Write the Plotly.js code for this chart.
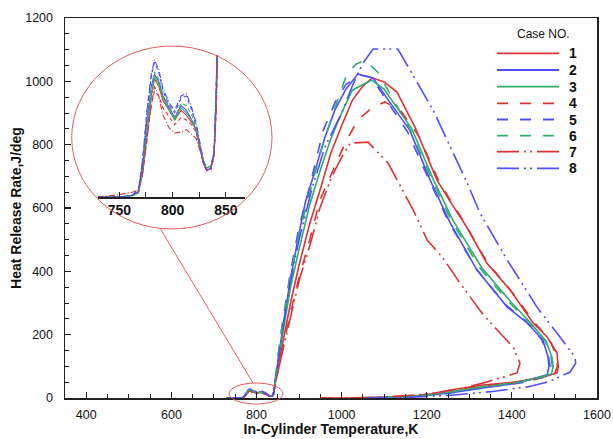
<!DOCTYPE html>
<html><head><meta charset="utf-8">
<script src="https://cdn.plot.ly/plotly-3.0.1.min.js"></script>
<style>html,body{margin:0;padding:0;background:#fff}#chart{width:613px;height:439px}</style>
</head><body><div id="chart"></div>
<script>
// ---- data ----
const caseNames = ['1','2','3','4','5','6','7','8'];
// low-temperature region (shared temperatures)
const tLow = [730, 750, 762, 768, 772, 776, 780, 783, 787, 791, 797, 802, 808, 813, 818, 822, 826, 829, 832, 836, 839, 841, 843, 845];
const qLow1 = [0,0,0.3,1,6,14,21,24.5,23,20,18,16,18,17,15.5,14,10,7,5.5,6,9,20,40,60];
const qLow2 = [0,0,0.3,1.2,7,16,23,25.5,24,21,18.5,16.5,19,18,16,14,10,7,5.5,6,9,22,45,70];
const qLow3 = [0,0,0.2,0.8,5,13,21,25,23.5,20.5,18,16,18.5,17.5,16,14,10.5,7.5,6,6.5,9,20,42,65];
const qLow4 = [0,0,0.3,1,5,12,19,22,21,18.5,16.5,15,16.5,16,15,13.5,10,7,5.5,5.5,8.5,18,38,55];
const qLow5 = [0,0,0.4,1.5,8,18,25,28,26,22,19,17.5,20.5,21,18,15,10.5,7.5,5.5,6,9.5,23,48,75];
const qLow6 = [0,0,0.3,1,6,15,22,26,24.5,21,18.5,16.5,19.5,19,17,14.5,10.5,7.5,6,6.5,9.5,22,45,70];
const qLow7 = [0,0.5,1,1.4,5,12,19,23,21,17,14.3,13.3,13.5,14,13,12.2,9.5,7,5.5,6,8.5,18,36,50];
const qLow8 = [0,0,0.4,1.4,8,18,25.5,28.5,26.5,22.5,19.5,18,21,21.5,18.5,15.5,11,7.5,5.5,6,9.5,23,48,75];
// main combustion region
const t1 = [848,855,865,880,900,925,950,975,1000,1025,1050,1072,1100,1130,1172,1224,1260,1294,1341,1396,1450,1483,1506,1509,1506,1473,1412,1332,1255,1201,1150,1080,1000,950];
const q1 = [80,130,200,300,420,550,660,775,860,940,985,1011,998,966,856,688,610,540,426,341,237,193,142,98,79,66,51,41,25,9,4,1,0,0];
const t2 = [848,855,865,880,900,915,933,960,984,1010,1038,1074,1110,1160,1208,1255,1318,1389,1436,1473,1485,1487,1483,1412,1332,1255,1180,1100,1050];
const q2 = [90,160,250,380,520,620,698,820,909,975,1023,1011,940,846,688,553,404,287,237,183,129,98,73,47,32,16,6,2,0];
const t3 = [848,855,865,880,900,925,950,975,1000,1025,1050,1071,1100,1165,1216,1262,1330,1400,1445,1480,1494,1497,1493,1450,1412,1332,1255,1180,1100,1020];
const q3 = [85,150,230,350,470,610,720,820,900,972,990,1004,975,850,688,560,410,300,235,180,130,100,76,60,49,36,20,7,2,0];
const t4 = [848,855,865,880,900,925,949,980,1010,1038,1070,1102,1140,1180,1230,1290,1341,1400,1455,1488,1503,1507,1500,1460,1400,1320,1240,1180,1100,1000];
const q4 = [70,110,180,270,380,500,625,720,810,878,915,935,905,830,680,550,430,335,235,185,140,100,75,60,48,36,20,8,2,0];
const t5 = [848,855,865,880,900,919,957,985,1010,1043,1070,1100,1155,1205,1250,1315,1385,1435,1470,1486,1490,1487,1440,1400,1320,1250,1180,1100,1050];
const q5 = [100,180,270,400,540,635,846,935,990,1020,1012,950,840,690,560,410,295,240,185,130,100,72,52,44,30,15,5,1,0];
const t6 = [848,855,865,880,900,919,949,980,1013,1035,1055,1085,1110,1160,1212,1258,1325,1395,1442,1478,1492,1495,1490,1445,1400,1320,1250,1180,1100,1040];
const q6 = [100,180,270,390,520,620,770,900,1026,1055,1067,1029,970,850,690,560,410,300,238,182,130,100,74,56,46,33,18,6,1,0];
const t7 = [848,855,865,880,900,925,949,977,1000,1020,1062,1109,1168,1201,1238,1278,1330,1372,1403,1419,1412,1372,1332,1280,1230,1180,1100,1000,950];
const q7 = [70,110,170,260,370,480,600,700,760,805,808,742,594,499,442,363,268,205,161,110,79,63,47,30,18,10,3,0,0];
const t8 = [848,855,865,880,900,930,960,1000,1025,1050,1074,1132,1215,1295,1325,1389,1459,1506,1548,1550,1537,1483,1436,1350,1250,1150,1050];
const q8 = [90,160,250,370,500,660,790,900,985,1058,1102,1102,909,679,584,436,287,205,130,110,82,50,35,20,8,2,0];
const xTicks = [400,600,800,1000,1200,1400,1600];
const yTicks = [0,200,400,600,800,1000,1200];
const insetTicks = [750,800,850];

// ---- styles ----
const RED = '#dd3333', BLUE = '#4f4fff', GREEN = '#2fae6c';
const colors = [RED, BLUE, GREEN, RED, BLUE, GREEN, RED, BLUE];
const DASH = '11px,12px', DDOT = '22px,5px,2px,4px,2px,5px';
const dashes = ['solid','solid','solid',DASH,DASH,DASH,DDOT,DDOT];
const lows = [qLow1,qLow2,qLow3,qLow4,qLow5,qLow6,qLow7,qLow8];
const ts = [t1,t2,t3,t4,t5,t6,t7,t8];
const qs = [q1,q2,q3,q4,q5,q6,q7,q8];
const FONT = 'Liberation Sans, Arial, sans-serif';

const traces = [];
for (let i = 0; i < 8; i++) {
  const x = tLow.concat(ts[i]);
  const y = lows[i].concat(qs[i]);
  traces.push({x, y, type:'scatter', mode:'lines', name:caseNames[i], showlegend:false,
    line:{color:colors[i], width:1.6, dash:dashes[i]}, xaxis:'x', yaxis:'y'});
}
for (let i = 0; i < 8; i++) {
  traces.push({x: tLow.concat(ts[i]), y: lows[i].concat(qs[i]), type:'scatter', mode:'lines',
    name:caseNames[i], showlegend:false, hoverinfo:'skip',
    line:{color:colors[i], width:1.1, dash: i<3 ? 'solid' : (i<6 ? '4px,3px' : '6px,2px,1px,2px')},
    xaxis:'x2', yaxis:'y2'});
}

// plot frame in pixels -> paper helpers
const PL = 65, PR = 597, PT = 18, PB = 398;
const px = v => (v - PL) / (PR - PL);
const py = v => (PB - v) / (PB - PT);

const shapes = [
  {type:'circle', xref:'paper', yref:'paper', x0:px(71.7), x1:px(272), y0:py(229), y1:py(46), line:{color:'#e85a5a', width:1}},
  {type:'circle', xref:'paper', yref:'paper', x0:px(229), x1:px(283), y0:py(404), y1:py(383), line:{color:'#e85a5a', width:1}},
  {type:'line', xref:'paper', yref:'paper', x0:px(160), y0:py(228.3), x1:px(253), y1:py(383), line:{color:'#e85a5a', width:1}}
];
const annotations = [
  {xref:'paper', yref:'paper', x:px(543), y:py(34), xanchor:'center', yanchor:'middle', text:'Case NO.', showarrow:false, font:{family:FONT, size:12, color:'#111'}}
];
const rowY = [53.3, 70, 86.7, 103.3, 119.5, 135.7, 151.7, 168.3];
for (let i = 0; i < 8; i++) {
  shapes.push({type:'line', xref:'paper', yref:'paper', x0:px(497), x1:px(559), y0:py(rowY[i]), y1:py(rowY[i]),
    line:{color:colors[i], width:1.8, dash:dashes[i]}});
  annotations.push({xref:'paper', yref:'paper', x:px(573), y:py(rowY[i]), xanchor:'center', yanchor:'middle',
    text:'<b>'+caseNames[i]+'</b>', showarrow:false, font:{family:FONT, size:14, color:'#111'}});
}

const axisCommon = {showline:true, linecolor:'#222', linewidth:1.5, mirror:true, showgrid:false, zeroline:false,
  ticks:'inside', ticklen:6, tickwidth:1.2, tickcolor:'#222',
  minor:{dtick:50, ticks:'inside', ticklen:4, tickwidth:1, tickcolor:'#222'},
  tickfont:{family:FONT, size:12.5, color:'#111'}};

const layout = {
  width:613, height:439, margin:{l:PL, r:613-PR, t:PT, b:439-PB},
  paper_bgcolor:'#fff', plot_bgcolor:'#fff', showlegend:false,
  xaxis: Object.assign({}, axisCommon, {range:[350,1600], tickvals:xTicks, ticktext:xTicks.map(String),
    ticklabelstandoff:4,
    title:{text:'<b>In-Cylinder Temperature,K</b>', font:{family:FONT, size:14, color:'#111'}, standoff:0}}),
  yaxis: Object.assign({}, axisCommon, {range:[0,1200], tickvals:yTicks, ticktext:yTicks.map(String),
    ticklabelstandoff:8,
    title:{text:'<b>Heat Release Rate,J/deg</b>', font:{family:FONT, size:14, color:'#111'}, standoff:0}}),
  xaxis2: {domain:[px(98), px(245)], anchor:'y2', range:[730,868], showline:true, linecolor:'#222', linewidth:1.5,
    showgrid:false, zeroline:false, ticks:'inside', ticklen:5, tickwidth:1.2, tickcolor:'#222',
    tickvals:insetTicks, ticktext:insetTicks.map(v=>'<b>'+v+'</b>'),
    minor:{dtick:25, tick0:750, ticks:'inside', ticklen:5, tickwidth:1, tickcolor:'#222'},
    tickfont:{family:FONT, size:14, color:'#111'}, ticklabelstandoff:0},
  yaxis2: {domain:[py(197), py(55)], anchor:'x2', range:[0,29.5], visible:false},
  shapes, annotations
};
Plotly.newPlot('chart', traces, layout, {staticPlot:true, displayModeBar:false});
</script></body></html>
